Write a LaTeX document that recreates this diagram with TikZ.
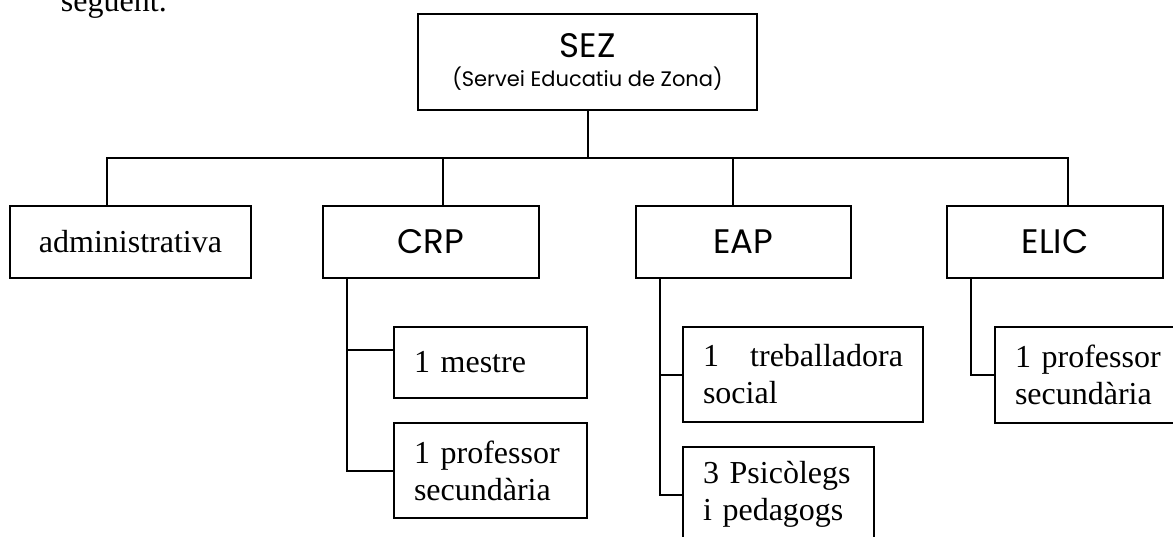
\documentclass[tikz,border=0pt]{standalone}
\usepackage{fontspec}
\setmainfont{Liberation Serif}
\newfontfamily\comicfont{Poppins}
\usetikzlibrary{calc}

\begin{document}
\begin{tikzpicture}[
  x=0.5pt, y=-0.5pt,
  line width=1pt,
  unit/.style={draw, minimum width=108pt, minimum height=36pt, inner sep=0pt},
  comic/.style={font=\comicfont\fontsize{17}{20}\selectfont},
  serif/.style={font=\fontsize{16}{18.5}\selectfont},
  staff/.style={draw, serif, align=left, inner xsep=10pt, inner ysep=0pt}
]
  \useasboundingbox (0,0) rectangle (1173,536);
  \clip (0,0) rectangle (1173,536);

  % Text above
  \node[serif, anchor=base west, inner sep=0pt] (intro) at (60,11) {següent.};

  % Top box
  \node[draw, align=center, minimum width=169.5pt, minimum height=48pt,
    inner sep=0pt, font=\comicfont\fontsize{10.5}{14.5}\selectfont] (sez) at (587.5,62)
    {{\fontsize{17}{20}\selectfont SEZ}\\(Servei Educatiu de Zona)};

  % Units
  \node[unit, serif, minimum width=120.5pt] (admin) at (130.5,242) {administrativa};
  \node[unit, comic] (crp) at (431,242) {CRP};
  \node[unit, comic, minimum width=107.5pt] (eap) at (743.5,242) {EAP};
  \node[unit, comic] (elic) at (1055,242) {ELIC};

  % Staff
  \node[staff, text width=76.5pt, minimum height=35.5pt] (mestre) at (490.5,362.5) {1 mestre};
  \node[staff, text width=76.5pt, minimum height=47.5pt] (crpprof) at (490.5,470.5)
    {1 professor\\secundària};
  \node[staff, text width=100pt, minimum height=47.5pt] (treb) at (803,374.5)
    {1\hfill treballadora\\social};
  \node[staff, text width=75.5pt, minimum height=47.5pt] (psic) at (778.5,494.5)
    {3 Psicòlegs\\i pedagogs};
  \node[staff, text width=76.5pt, minimum height=48pt] (elicprof) at (1091.5,375)
    {1 professor\\secundària};

  % Tree lines
  \coordinate (bus) at (587.5,158);
  \draw (sez) -- (bus);
  \foreach \n/\dx in {admin/-23.5, crp/12, eap/-10.5, elic/13} {
    \draw ($(\n.north)+(\dx,0)$) |- (bus);
  }

  \draw ($(crp.south)+(-84,0)$) |- ($(mestre.west)+(0,-12.5)$);
  \foreach \u/\s in {crp/crpprof, eap/treb, eap/psic, elic/elicprof} {
    \draw ($(\u.south)+(-84,0)$) |- (\s.west);
  }
\end{tikzpicture}
\end{document}
